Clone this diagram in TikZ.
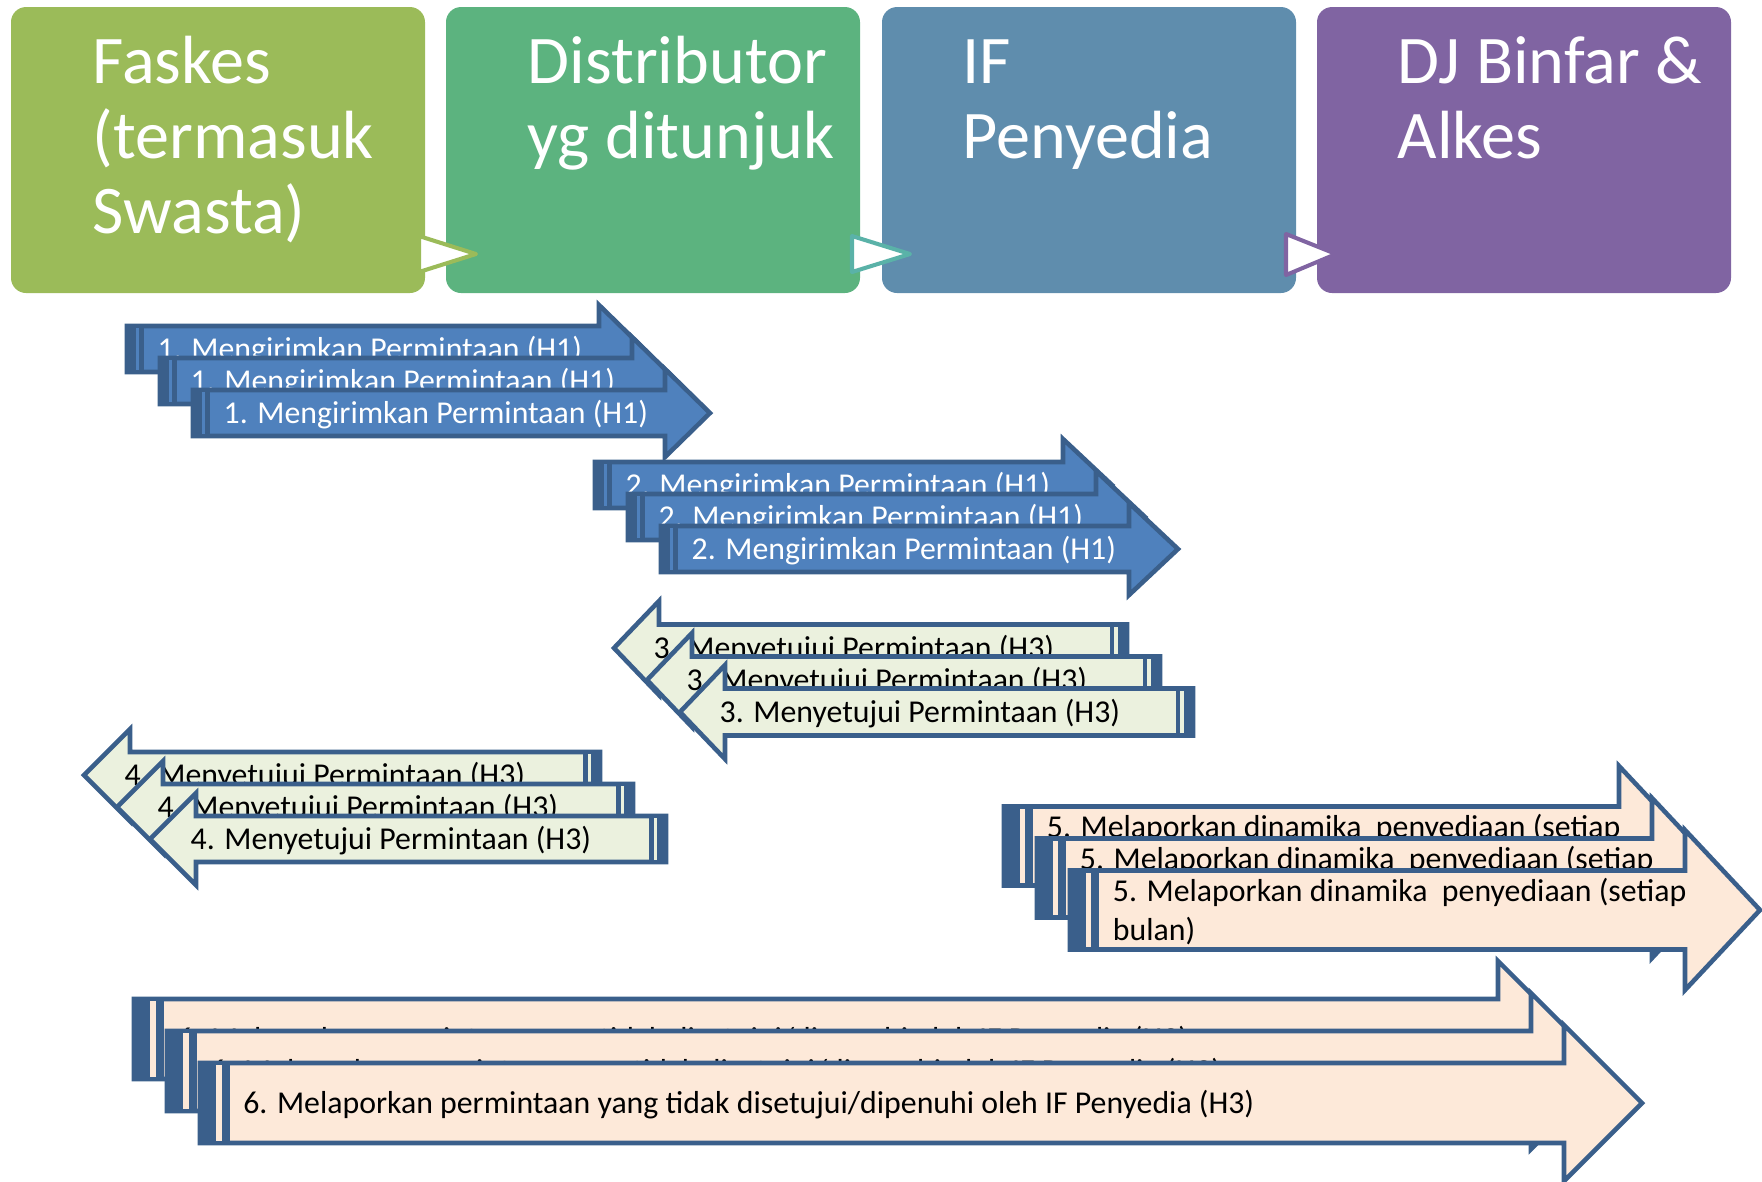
\documentclass[tikz,border=0pt]{standalone}
\usepackage{fontspec}
\setmainfont{Carlito}
\usepackage{tikz}

\definecolor{faskes}{HTML}{9BBB59}
\definecolor{distrib}{HTML}{5CB37F}
\definecolor{ifpeny}{HTML}{5F8DAD}
\definecolor{djbin}{HTML}{8064A2}
\definecolor{tosca}{HTML}{5AB2A8}
\definecolor{garis}{HTML}{3A5F8B}
\definecolor{biru}{HTML}{4F81BD}
\definecolor{hijaumuda}{HTML}{EBF1DE}
\definecolor{krem}{HTML}{FDE9D9}

\tikzset{
  kotak/.style={rounded corners=4.3pt},
  judul/.style={anchor=base west, inner sep=0, text=white, align=left, font=\fontsize{19.4}{21.3}\selectfont},
  segitiga/.style={fill=white, line width=1.15pt, line join=round},
  panah/.style={draw=garis, line width=1.3pt},
  teks/.style={anchor=west, inner sep=0, align=left, font=\fontsize{9.05}{11.1}\selectfont},
  gbiru/.style={fill=biru, text=white},
  ghijau/.style={fill=hijaumuda, text=black},
  gkrem/.style={fill=krem, text=black}
}

% tiga panah bertumpuk ke kanan: nama, x0, yc, L, h, H, hl, gaya, teks
\newcommand{\panahkanan}[9]{%
  \foreach \k in {0,1,2}{
    \begin{scope}[shift={(#2+33*\k,#3+32*\k)}]
      \draw[panah, #8] (0,-#5) -- (#4,-#5) -- (#4,-#6) -- (#4+#7,0) -- (#4,#6) -- (#4,#5) -- (0,#5) -- cycle;
      \fill[garis] (-2.3,-#5-2.3) rectangle (0.74*#5,#5+2.3);
      \fill[#8] (0.4*#5,-#5+2.3) rectangle (0.54*#5,#5-2.3);
      \node[teks, #8, fill=none] (#1\k) at (0.74*#5+13,2) {#9};
    \end{scope}}}

% tiga panah bertumpuk ke kiri: nama, xujung, yc, L, h, H, hl, gaya, teks
\newcommand{\panahkiri}[9]{%
  \foreach \k in {0,1,2}{
    \begin{scope}[shift={(#2+33*\k,#3+32*\k)}]
      \draw[panah, #8] (0,0) -- (#7,-#6) -- (#7,-#5) -- (#7+#4,-#5) -- (#7+#4,#5) -- (#7,#5) -- (#7,#6) -- cycle;
      \fill[garis] (#7+#4-0.74*#5,-#5-2.3) rectangle (#7+#4+2.3,#5+2.3);
      \fill[#8] (#7+#4-0.54*#5,-#5+2.3) rectangle (#7+#4-0.4*#5,#5-2.3);
      \node[teks, #8, fill=none] (#1\k) at (#7-6,2) {#9};
    \end{scope}}}

\begin{document}
\begin{tikzpicture}[x=0.1mm, y=-0.1mm]
\useasboundingbox (0,0) rectangle (1762,1181);

% kotak judul
\fill[kotak, faskes] (11,7) rectangle (425,293);
\fill[kotak, distrib] (446,7) rectangle (860,293);
\fill[kotak, ifpeny] (882,7) rectangle (1296,293);
\fill[kotak, djbin] (1317,7) rectangle (1731,293);

% base = garis terakhir
\node[judul] (faskes) at (92,233) {Faskes\\(termasuk\\Swasta)};
\node[judul] (distributor) at (527,158) {Distributor\\yg ditunjuk};
\node[judul] (ifpeny) at (962,158) {IF\\Penyedia};
\node[judul] (djbinfar) at (1397,158) {DJ Binfar \&\\Alkes};

% segitiga antar kotak
\draw[segitiga, draw=faskes] (419,236) -- (476,254) -- (419,272) -- cycle;
\draw[segitiga, draw=tosca] (852,236) -- (910,254) -- (852,272) -- cycle;
\draw[segitiga, draw=djbin] (1286,234) -- (1336,254) -- (1286,275) -- cycle;

% alur
\panahkanan{kirimA}{127}{349}{472}{23}{44}{45}{gbiru}{1. Mengirimkan Permintaan (H1)}
\panahkanan{kirimB}{595}{485}{468}{23}{46}{49}{gbiru}{2. Mengirimkan Permintaan (H1)}
\panahkiri{setujuA}{614}{648}{468}{23.5}{47}{45}{ghijau}{3. Menyetujui Permintaan (H3)}
\panahkiri{setujuB}{84}{775}{470}{23}{46}{46}{ghijau}{4. Menyetujui Permintaan (H3)}
\panahkanan{lapor}{1004}{846}{615}{39.5}{80}{75}{gkrem}{5. Melaporkan dinamika\ \ penyediaan (setiap\\bulan)}
\panahkanan{tolak}{134}{1039}{1364}{40}{78}{78}{gkrem}{6. Melaporkan permintaan yang tidak disetujui/dipenuhi oleh IF Penyedia (H3)}
\end{tikzpicture}
\end{document}
